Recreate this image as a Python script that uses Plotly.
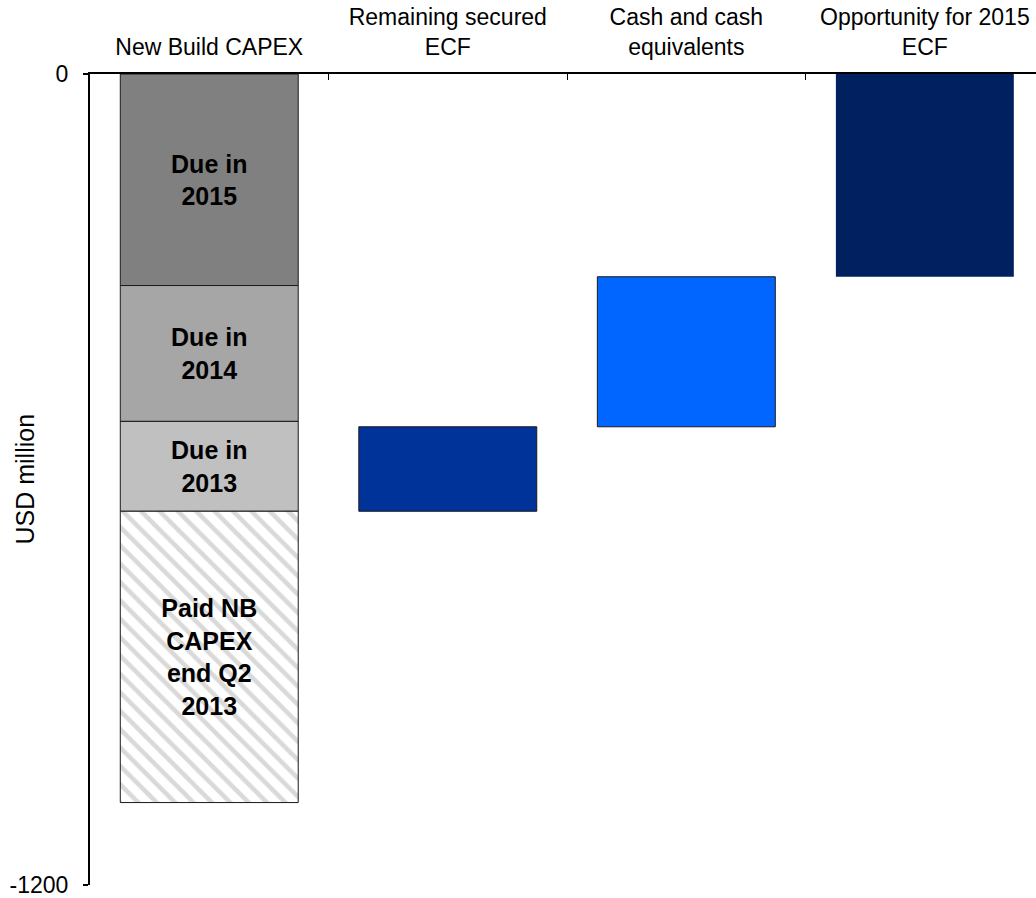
import plotly.graph_objects as go
import numpy as np

# ---- data ----
categories = ["New Build CAPEX", "Remaining secured<br>ECF", "Cash and cash<br>equivalents", "Opportunity for 2015<br>ECF"]

# New Build CAPEX stack (USD million), from top (0) downward
capex_labels = ["Due in<br>2015", "Due in<br>2014", "Due in<br>2013", "Paid NB<br>CAPEX<br>end Q2<br>2013"]
capex_values = [313, 201, 133, 431]

# Financing bridge (USD million), from bottom of 2013 upward
bridge_cats = [categories[1], categories[2], categories[3]]
bridge_values = [125, 222, 300]

y_ticks = [0, -1200]
y_range = [-1200, 0]

FONT = "Liberation Sans, Arial, sans-serif"

fig = go.Figure()

# stacked capex bars
capex_colors = ["#808080", "#a6a6a6", "#c0c0c0", "#ffffff"]
tops = -np.concatenate([[0], np.cumsum(capex_values)[:-1]])
for i, (lab, val) in enumerate(zip(capex_labels, capex_values)):
    marker = dict(color=capex_colors[i], line=dict(color="#1a1a1a", width=1))
    if i == 3:
        marker["pattern"] = dict(shape="\\", fgcolor="#d9d9d9", bgcolor="#ffffff",
                                 size=13, solidity=0.35, fillmode="replace")
    fig.add_trace(go.Bar(
        x=[categories[0]], y=[-val], base=[tops[i]],
        text=[lab], textposition="inside", insidetextanchor="middle",
        textangle=0, constraintext="none",
        textfont=dict(family=FONT, size=25, color="black", weight="bold"),
        marker=marker, showlegend=False, hoverinfo="skip",
    ))

# bridge bars: each floating, stacked upward from the capex total
capex_total = sum(capex_values[:3])
bridge_bottoms = -capex_total + np.concatenate([[0], np.cumsum(bridge_values)[:-1]])
bridge_colors = ["#003399", "#0066ff", "#002060"]
bridge_lines = [1, 1, 0]
for i, (c, v) in enumerate(zip(bridge_cats, bridge_values)):
    fig.add_trace(go.Bar(
        x=[c], y=[v], base=[bridge_bottoms[i]],
        marker=dict(color=bridge_colors[i],
                    line=dict(color="#1a1a1a", width=bridge_lines[i])),
        showlegend=False, hoverinfo="skip",
    ))

fig.update_layout(
    width=1036, height=898,
    margin=dict(l=90, r=0, t=74, b=11),
    paper_bgcolor="white", plot_bgcolor="white",
    barmode="overlay", bargap=0.254,
    font=dict(family=FONT, color="black"),
)

fig.update_xaxes(
    type="category", categoryorder="array", categoryarray=categories,
    range=[-0.5, 3.466], side="top",
    showline=True, linecolor="black", linewidth=2,
    ticks="inside", tickson="boundaries", ticklen=6, tickcolor="black", tickwidth=1,
    tickfont=dict(family=FONT, size=23, color="black"),
    ticklabelstandoff=8,
    showgrid=False, zeroline=False,
)

fig.update_yaxes(
    range=y_range, tickvals=y_ticks, ticktext=[str(v) for v in y_ticks],
    showline=True, linecolor="black", linewidth=2,
    ticks="outside", ticklen=5, tickcolor="black", tickwidth=2,
    tickfont=dict(family=FONT, size=23, color="black"),
    ticklabelstandoff=10, ticklabeloverflow="allow",
    showgrid=False, zeroline=False,
)

fig.add_annotation(
    text="USD million", textangle=-90,
    xref="paper", yref="paper", x=(24 - 90) / 946, y=0.5,
    xanchor="center", yanchor="middle", showarrow=False,
    font=dict(family=FONT, size=25, color="black"),
)

fig.write_html("out.html")
